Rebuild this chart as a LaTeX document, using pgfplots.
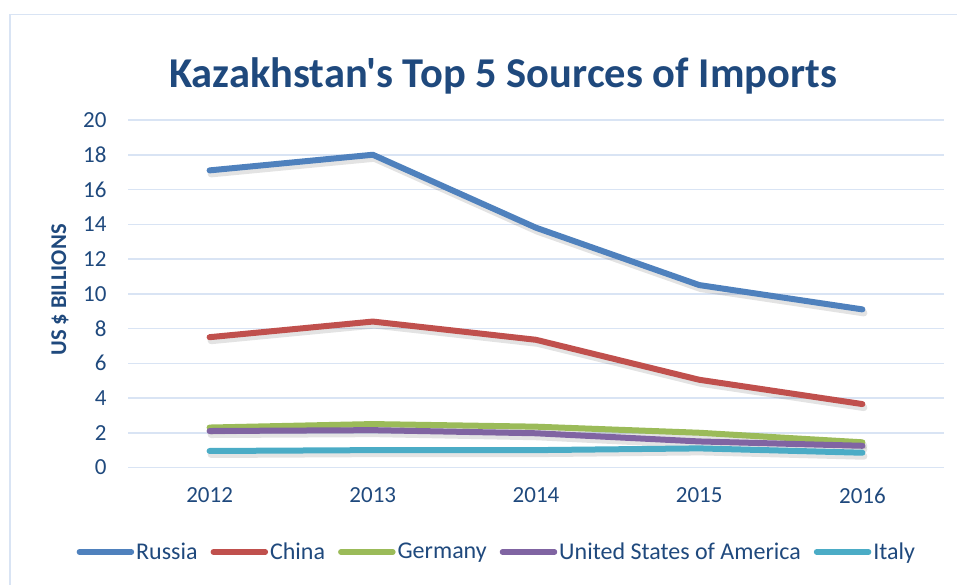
\documentclass[border=0pt]{standalone}
\usepackage{fontspec}
\setmainfont{Carlito}[Ligatures=TeXOff]
\usepackage{pgfplots}
\usepackage{pgfplotstable}
\pgfplotsset{compat=1.18}
\definecolor{txt}{HTML}{1F497D}
\definecolor{grd}{HTML}{D9E4F4}
\definecolor{cRu}{HTML}{4F81BD}
\definecolor{cCn}{HTML}{C0504D}
\definecolor{cDe}{HTML}{9BBB59}
\definecolor{cUs}{HTML}{8064A2}
\definecolor{cIt}{HTML}{4BACC6}
\pgfplotstableread{
x Russia China Germany USA Italy
0 17.1 7.5 2.3 2.1 0.95
1 18.0 8.4 2.5 2.15 1.0
2 13.8 7.35 2.35 1.97 1.0
3 10.5 5.05 2.0 1.5 1.1
4 9.1 3.65 1.45 1.25 0.85
}\imports
\begin{document}
\begin{tikzpicture}
\path[use as bounding box] (0,0) rectangle (957pt,584pt);
\draw[grd, line width=1.5pt] (10pt,-10pt) -- (10pt,569.5pt) -- (970pt,569.5pt);
\node[font=\bfseries\fontsize{42.5}{45}\selectfont, text=txt] at (503pt,508pt) {Kazakhstan's Top 5 Sources of Imports};
\node[rotate=90, font=\bfseries\fontsize{22.5}{25}\selectfont, text=txt] at (60pt,294pt) {US \$ BILLIONS};
\begin{axis}[
  scale only axis, width=816pt, height=347.5pt,
  at={(128pt,116.5pt)}, anchor=south west,
  xmin=-0.5, xmax=4.5, ymin=0, ymax=20,
  ytick={0,2,...,20},
  xtick={0,1,2,3,4}, xticklabels={2012,2013,2014,2015,2016},
  /pgf/number format/assume math mode=true,
  axis lines*=left,
  y axis line style={draw=none},
  x axis line style={grd, line width=1.5pt},
  xtick style={draw=none}, ytick style={draw=none},
  extra x ticks={-0.5,0.5,1.5,2.5,3.5,4.5},
  extra x tick labels={},
  extra x tick style={tick style={draw=grd, line width=1.5pt}, major tick length=9pt, tick align=outside, grid=none},
  ymajorgrids, grid style={grd, line width=1.5pt},
  tick label style={font=\fontsize{23}{25}\selectfont, text=txt},
  yticklabel style={xshift=-18pt},
  xticklabel style={yshift=-17pt},
  legend style={at={(0.452,-0.243)}, anchor=center, draw=none, fill=none,
    font=\fontsize{24}{26}\selectfont, text=txt,
    legend columns=5,
    /tikz/every even column/.append style={column sep=11pt},
    nodes={inner xsep=2pt}},
  legend image code/.code={\draw[#1, line width=5.5pt, line cap=round] (0pt,0pt) -- (52pt,0pt);},
  every axis plot/.append style={line width=6pt, line cap=round, line join=round, no markers},
]
\foreach \s in {Russia,China,Germany,USA,Italy}{
  \addplot[forget plot, draw=black, opacity=0.11, line width=7pt, transform canvas={xshift=1.5pt,yshift=-3.5pt}] table[x=x,y=\s] {\imports};
}
\addplot[cRu] table[x=x,y=Russia] {\imports};
\addplot[cCn] table[x=x,y=China] {\imports};
\addplot[cDe] table[x=x,y=Germany] {\imports};
\addplot[cUs] table[x=x,y=USA] {\imports};
\addplot[cIt] table[x=x,y=Italy] {\imports};
\legend{Russia,China,Germany,United States of America,Italy}
\end{axis}
\end{tikzpicture}
\end{document}
